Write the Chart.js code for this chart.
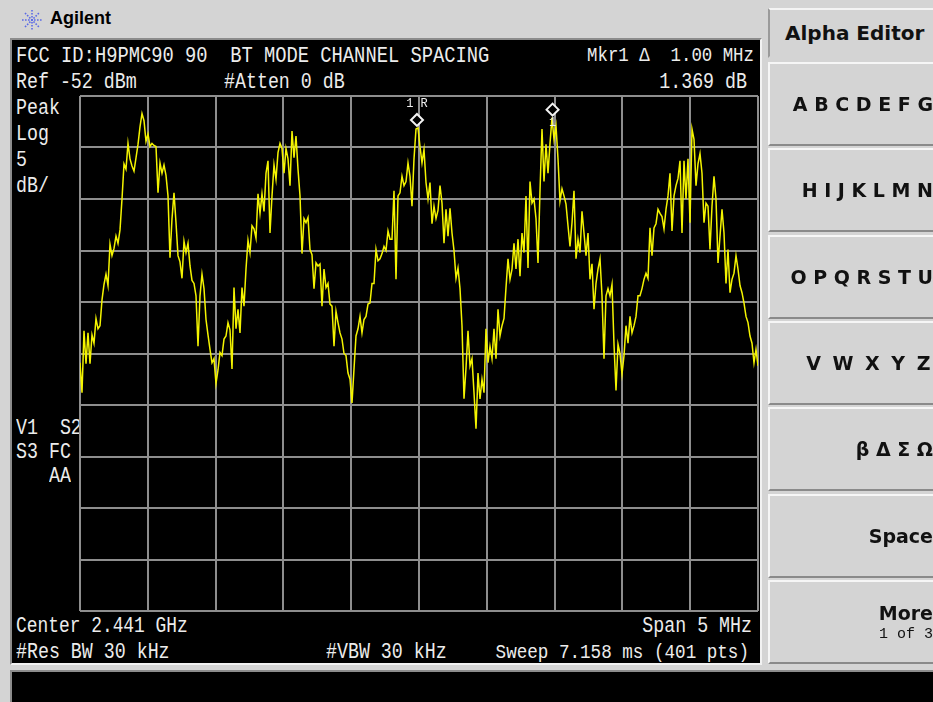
<!DOCTYPE html>
<html>
<head>
<meta charset="utf-8">
<script src="https://cdn.jsdelivr.net/npm/chart.js@4.4.1/dist/chart.umd.min.js"></script>
<style>
  html, body { margin: 0; padding: 0; }
  body { width: 933px; height: 702px; background: #d4d4d4; position: relative; overflow: hidden; font-family: "DejaVu Sans", sans-serif; }
  #brand { position: absolute; left: 50px; top: 8px; font: bold 18px "Liberation Sans", Arial, sans-serif; color: #000; }
  #logo { position: absolute; left: 20px; top: 9px; }
  #screen { position: absolute; left: 10px; top: 38px; width: 752px; height: 627px; background: #000; box-sizing: border-box; border: 2px solid; border-color: #8c8c8c #f2f2f2 #f2f2f2 #8c8c8c; }
  #msgbar { position: absolute; left: 10px; top: 670px; width: 940px; height: 34px; background: #000; box-sizing: border-box; border: 2px solid; border-color: #8c8c8c #f2f2f2 #f2f2f2 #8c8c8c; }
  .t { position: absolute; white-space: pre; color: #ececec; font-family: "Liberation Mono", monospace; font-size: 18.3px; line-height: 18px; transform: scaleY(1.2); transform-origin: 0 50%; }
  .r { text-align: right; transform-origin: 100% 50%; }
  #chartbox { position: absolute; left: 70px; top: 86px; width: 700px; height: 536px; }
  #tab { position: absolute; left: 768px; top: 8px; width: 190px; height: 50px; box-sizing: border-box; border: 2px solid; border-color: #f4f4f4 #8a8a8a #d4d4d4 #9a9a9a; padding: 11px 0 0 15px; font: bold 20px "DejaVu Sans", sans-serif; color: #111; }
  .key { position: absolute; left: 768px; width: 167px; height: 84px; box-sizing: border-box; border: 2px solid; border-color: #f6f6f6 #8a8a8a #8a8a8a #f6f6f6; display: flex; flex-direction: column; justify-content: center; align-items: flex-end; padding-right: 0; color: #111; }
  .big { font: bold 19px "DejaVu Sans", sans-serif; white-space: pre; }
  .small { font: 15px "Liberation Mono", monospace; white-space: pre; margin-top: 2px; }
</style>
</head>
<body>
<svg id="logo" width="24" height="22" viewBox="-12 -11 24 22">
  <g stroke="#5a6ae6" stroke-width="1.6" stroke-dasharray="1.6 1.4">
    <line x1="-10" y1="0" x2="10" y2="0"/>
    <line x1="0" y1="-10" x2="0" y2="10"/>
    <line x1="-7" y1="-7" x2="7" y2="7"/>
    <line x1="-7" y1="7" x2="7" y2="-7"/>
  </g>
</svg>
<div id="brand">Agilent</div>

<div id="screen"></div>
<div id="msgbar"></div>

<div class="t" style="left:16px;top:47px;font-size:18.8px">FCC ID:H9PMC90 90  BT MODE CHANNEL SPACING</div>
<div class="t r" style="right:179px;top:47px;font-size:17.4px">Mkr1 Δ  1.00 MHz</div>
<div class="t" style="left:16px;top:73px">Ref -52 dBm</div>
<div class="t" style="left:224px;top:73px">#Atten 0 dB</div>
<div class="t r" style="right:186px;top:73px">1.369 dB</div>
<div class="t" style="left:16px;top:99px">Peak</div>
<div class="t" style="left:16px;top:125px">Log</div>
<div class="t" style="left:16px;top:151px">5</div>
<div class="t" style="left:16px;top:177px">dB/</div>
<div class="t" style="left:16px;top:419px">V1  S2</div>
<div class="t" style="left:16px;top:443px">S3 FC</div>
<div class="t" style="left:49px;top:467px">AA</div>
<div class="t" style="left:16px;top:617px;font-size:17.9px">Center 2.441 GHz</div>
<div class="t r" style="right:181px;top:617px">Span 5 MHz</div>
<div class="t" style="left:16px;top:643px">#Res BW 30 kHz</div>
<div class="t" style="left:326px;top:643px">#VBW 30 kHz</div>
<div class="t r" style="right:184px;top:643px;font-size:17.6px">Sweep 7.158 ms (401 pts)</div>

<div id="chartbox"><canvas id="c" width="700" height="536"></canvas></div>

<div id="tab">Alpha Editor</div>
<div class="key" style="top:62px"><span class="big">A B C D E F G</span></div>
<div class="key" style="top:148px"><span class="big">H I J K L M N</span></div>
<div class="key" style="top:235px"><span class="big">O P Q R S T U</span></div>
<div class="key" style="top:321px"><span class="big" style="letter-spacing:2.5px">V W X Y Z</span></div>
<div class="key" style="top:407px"><span class="big">β Δ Σ Ω</span></div>
<div class="key" style="top:494px"><span class="big">Space</span></div>
<div class="key" style="top:580px"><span class="big">More</span><span class="small">1 of 3</span></div>

<script>
// sweep settings (MHz / dBm)
const centerFreq = 2441
const spanFreq = 5
const refLevel = -52
const dbPerDiv = 5

// trace, dBm, left to right
const traceDb = [
  -77.9, -80.8, -74.8, -78.0, -75.0, -78.0, -75.2, -76.0, -73.6, -74.6,
  -74.3, -71.8, -70.3, -69.3, -70.4, -66.4, -67.5, -66.8, -65.6, -66.3,
  -65.0, -62.0, -58.6, -59.1, -56.6, -58.1, -58.8, -59.3, -58.0, -56.7,
  -55.0, -53.7, -54.4, -56.4, -55.7, -56.9, -56.6, -56.8, -56.9, -61.4,
  -58.5, -59.5, -58.7, -59.7, -61.7, -67.7, -63.9, -61.4, -64.3, -67.5,
  -68.1, -69.7, -66.1, -67.2, -66.3, -68.5, -69.9, -70.2, -71.4, -76.3,
  -71.4, -69.3, -70.7, -73.7, -75.2, -76.6, -77.9, -77.5, -79.9, -78.6,
  -76.9, -77.2, -75.6, -75.3, -74.0, -74.7, -78.5, -70.6, -74.6, -72.7,
  -75.0, -70.6, -72.4, -68.8, -66.0, -67.2, -64.6, -64.9, -65.8, -61.5,
  -63.4, -61.5, -63.2, -59.5, -58.3, -65.3, -61.7, -58.7, -60.1, -57.5,
  -56.6, -57.1, -59.5, -57.1, -58.1, -60.7, -55.4, -58.0, -55.9, -59.1,
  -61.7, -67.3, -63.9, -64.3, -63.8, -66.9, -67.4, -70.7, -68.2, -68.5,
  -68.3, -72.4, -68.8, -70.6, -70.2, -72.2, -72.4, -76.3, -72.9, -74.0,
  -75.0, -75.6, -77.0, -77.2, -78.9, -79.5, -81.8, -78.5, -75.3, -74.6,
  -73.4, -75.0, -73.7, -73.4, -72.2, -72.1, -70.2, -70.2, -66.9, -68.0,
  -67.8, -67.3, -66.6, -67.0, -65.1, -65.9, -65.9, -61.2, -69.8, -61.7,
  -61.4, -59.8, -60.7, -60.3, -58.5, -59.8, -62.7, -58.1, -55.2, -55.1,
  -56.9, -58.5, -57.2, -60.4, -62.0, -60.4, -64.4, -62.7, -63.9, -63.1,
  -60.7, -62.4, -66.3, -63.0, -65.6, -62.9, -65.3, -67.0, -69.7, -68.7,
  -70.7, -74.3, -81.4, -78.4, -74.8, -78.2, -77.5, -80.8, -84.3, -78.9,
  -81.4, -79.5, -80.8, -74.6, -77.9, -76.3, -77.5, -74.6, -77.5, -72.7,
  -75.3, -74.3, -73.6, -70.6, -67.8, -69.8, -68.8, -66.3, -68.8, -65.9,
  -69.5, -65.3, -67.2, -61.7, -68.7, -60.3, -62.4, -62.0, -63.9, -68.2,
  -61.2, -55.2, -60.3, -56.7, -59.5, -56.6, -54.1, -56.2, -54.9, -58.1,
  -62.2, -61.0, -61.7, -62.5, -64.6, -66.6, -64.3, -61.2, -67.8, -65.9,
  -67.2, -63.2, -65.3, -67.5, -65.3, -69.8, -68.3, -72.7, -70.2, -68.8,
  -67.8, -71.4, -77.5, -71.4, -70.7, -71.4, -70.3, -76.1, -80.6, -76.1,
  -77.0, -79.0, -77.2, -74.3, -76.0, -73.4, -75.0, -74.3, -73.4, -71.4,
  -71.4, -70.7, -69.8, -69.2, -69.7, -64.8, -67.5, -64.8, -64.4, -63.0,
  -63.4, -63.7, -64.9, -63.0, -61.7, -59.5, -65.1, -61.7, -60.7, -60.0,
  -58.3, -65.3, -58.3, -62.0, -58.1, -64.3, -55.2, -56.2, -60.7, -58.6,
  -57.6, -59.5, -64.3, -62.4, -62.7, -66.9, -62.7, -59.8, -62.0, -68.2,
  -65.6, -63.0, -65.3, -70.2, -66.9, -71.1, -69.8, -69.2, -67.5, -68.8,
  -70.4, -71.1, -72.1, -73.4, -74.0, -75.3, -76.0, -77.9, -76.6, -78.2
]

// markers: reference (1R) and delta marker (1)
const markerFreqs = [2440.985, 2441.985]
const markerLevels = [-55.1, -54.1]
const markerTags = ['1 R', '1']

const startFreq = centerFreq - spanFreq / 2
const stopFreq = centerFreq + spanFreq / 2
const points = traceDb.map((v, i) => ({
  x: startFreq + i * spanFreq / (traceDb.length - 1),
  y: v
}))

const markerPlugin = {
  id: 'markers',
  afterDatasetsDraw (chart) {
    const { ctx, scales } = chart
    ctx.save()
    markerFreqs.forEach((f, i) => {
      const px = scales.x.getPixelForValue(f)
      const py = scales.y.getPixelForValue(markerLevels[i]) - 8
      ctx.beginPath()
      ctx.moveTo(px, py - 6)
      ctx.lineTo(px + 6, py)
      ctx.lineTo(px, py + 6)
      ctx.lineTo(px - 6, py)
      ctx.closePath()
      ctx.fillStyle = '#000'
      ctx.fill()
      ctx.strokeStyle = '#f4f4f4'
      ctx.lineWidth = 2
      ctx.stroke()
      ctx.fillStyle = '#eeeeee'
      ctx.font = '12px "Liberation Mono", monospace'
      ctx.textAlign = 'center'
      ctx.textBaseline = 'middle'
      if (i === 0) ctx.fillText(markerTags[i], px, py - 16)
      else ctx.fillText(markerTags[i], px, py + 13)
    })
    ctx.restore()
  }
}

new Chart(document.getElementById('c'), {
  type: 'line',
  data: {
    datasets: [{
      data: points,
      borderColor: '#f4f400',
      borderWidth: 1.5,
      pointRadius: 0,
      tension: 0
    }]
  },
  options: {
    responsive: false,
    animation: false,
    layout: { padding: { left: 10, top: 10, right: 12, bottom: 11 } },
    plugins: { legend: { display: false }, tooltip: { enabled: false } },
    scales: {
      x: {
        type: 'linear',
        min: startFreq,
        max: stopFreq,
        ticks: { display: false, stepSize: spanFreq / 10 },
        grid: { color: '#8e8e8e', lineWidth: 2, drawTicks: false },
        border: { display: false }
      },
      y: {
        min: refLevel - 10 * dbPerDiv,
        max: refLevel,
        ticks: { display: false, stepSize: dbPerDiv },
        grid: { color: '#8e8e8e', lineWidth: 2, drawTicks: false },
        border: { display: false }
      }
    }
  },
  plugins: [markerPlugin]
})
</script>
</body>
</html>
